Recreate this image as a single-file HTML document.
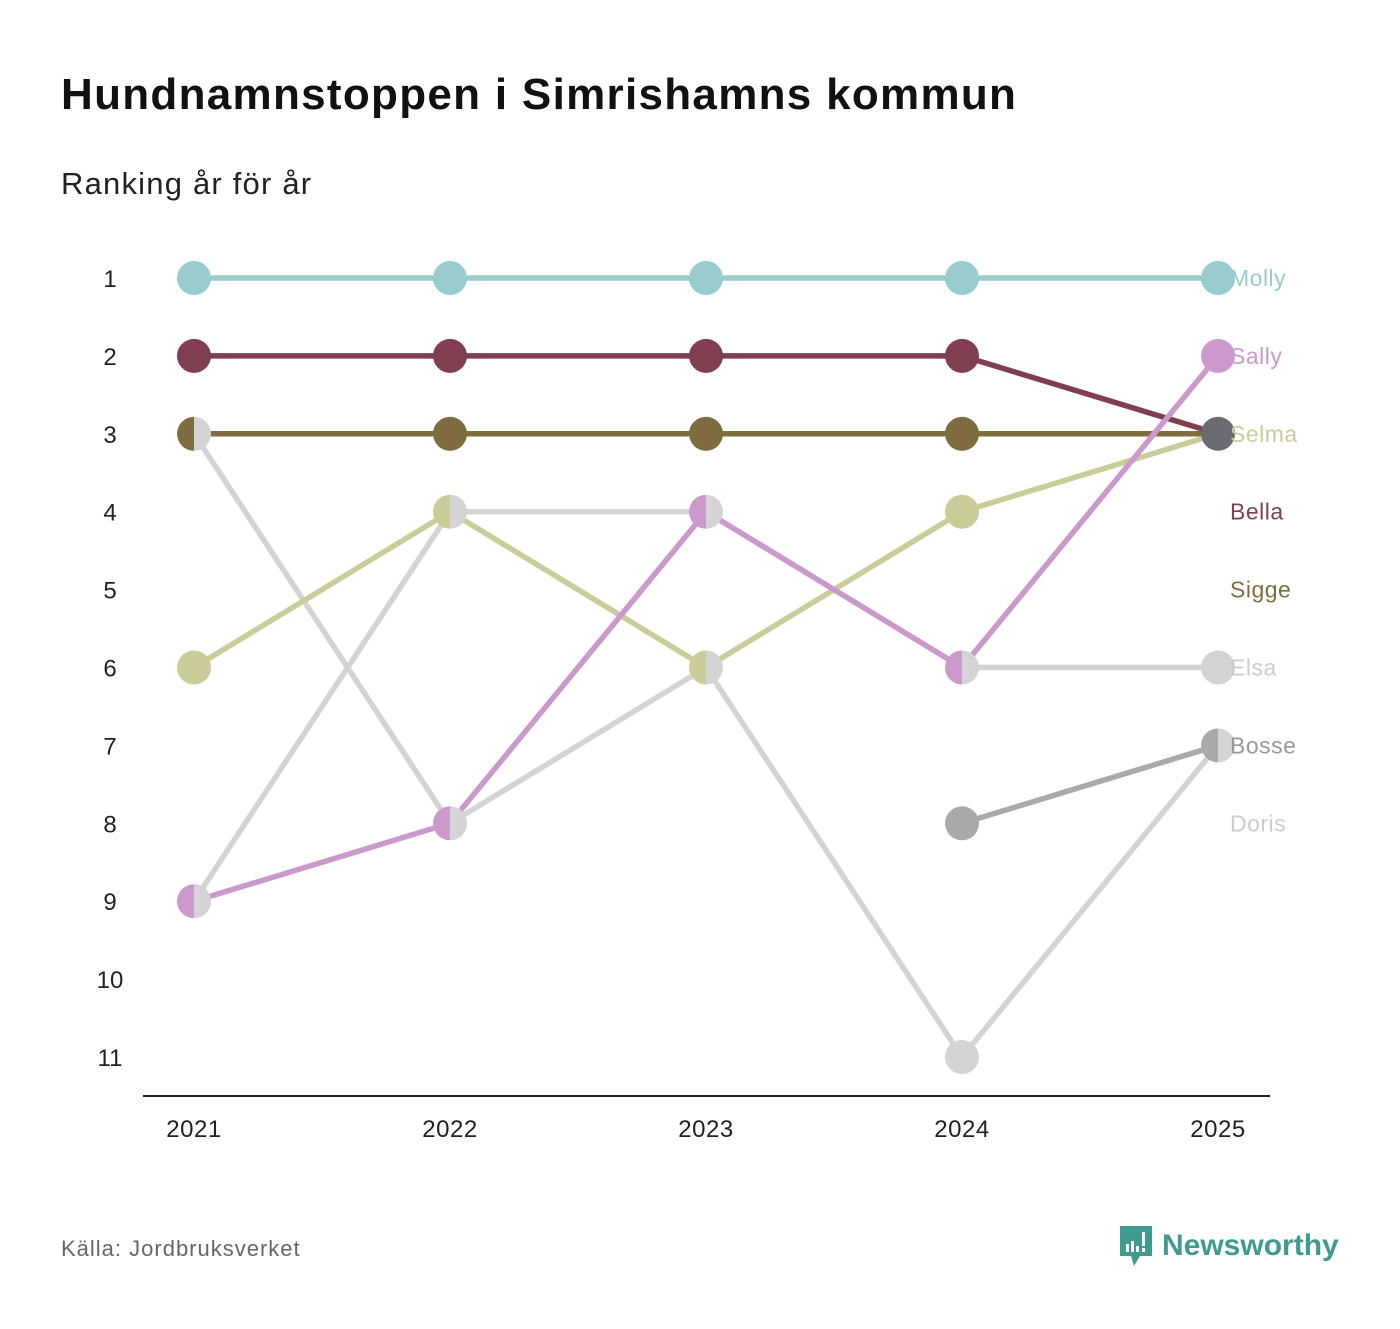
<!DOCTYPE html>
<html><head><meta charset="utf-8">
<style>
body{margin:0;background:#fff;font-family:"Liberation Sans","DejaVu Sans",sans-serif;}
#wrap{position:relative;width:1400px;height:1329px;overflow:hidden;}
h1{position:absolute;left:61px;top:70px;margin:0;font-size:44px;letter-spacing:1.3px;font-weight:bold;color:#111;}
.sub{position:absolute;left:61px;top:166px;font-size:31px;letter-spacing:1.2px;color:#222;}
.src{position:absolute;left:61px;top:1236px;font-size:22px;letter-spacing:1px;color:#666;}
.logo{position:absolute;left:1118px;top:1224px;display:flex;align-items:center;}
.logo span{font-size:30px;font-weight:bold;color:#3f9a8f;margin-left:8px;}
</style></head><body>
<div id="wrap">
<h1>Hundnamnstoppen i Simrishamns kommun</h1>
<div class="sub">Ranking år för år</div>
<svg id="chart" width="1400" height="1329" style="position:absolute;left:0;top:0"></svg>
<div class="src">Källa: Jordbruksverket</div>
<div class="logo">
<svg width="36" height="44" viewBox="0 0 36 44"><path d="M2 2h32v30H22l-6 10-3-10H2z" fill="#3f9a8f"/><rect x="8" y="20" width="3" height="8" fill="#fff"/><rect x="13" y="17" width="3" height="11" fill="#fff"/><rect x="18" y="22" width="3" height="6" fill="#fff"/><rect x="24" y="8" width="3" height="14" fill="#fff"/><rect x="24" y="24" width="3" height="4" fill="#fff"/></svg>
<span>Newsworthy</span></div>
</div>
<script>
const years=[2021,2022,2023,2024,2025];
const rankTicks=[1,2,3,4,5,6,7,8,9,10,11];
const names=["Molly","Bella","Sigge","Selma","Sally","Bosse","Elsa","Doris"];
const colors=["#99cccc","#7f3f50","#7f6d3f","#cccc99","#cc99cc","#aaaaaa","#d4d4d4","#d4d4d4"];
const labelColors=["#99cccc","#7f3f50","#7f6d3f","#cccc99","#cc99cc","#999999","#cccccc","#cccccc"];
const molly=[1,1,1,1,1];
const bella=[2,2,2,2,3];
const sigge=[3,3,3,3,3];
const selma=[6,4,6,4,3];
const sally=[9,8,4,6,2];
const bosse=[null,null,null,8,7];
const elsa=[9,4,4,6,6];
const doris=[3,8,6,11,7];
const labelRanks=[1,4,5,3,2,7,6,8];
const series=[molly,bella,sigge,selma,sally,bosse,elsa,doris];
const lineOrder=[7,6,0,1,2,3,4,5];

const svg=document.getElementById('chart');
const NS="http://www.w3.org/2000/svg";
const x=i=>194+i*256;
const y=r=>278+(r-1)*77.9;
function mk(t,a){const e=document.createElementNS(NS,t);for(const k in a)e.setAttribute(k,a[k]);svg.appendChild(e);return e;}
const ax=mk('line',{x1:143,x2:1270,y1:1096,y2:1096,stroke:'#222','stroke-width':2});


years.forEach((yr,i)=>{
 const l=mk('text',{x:x(i),y:1137,'text-anchor':'middle','font-size':24,'letter-spacing':0.5,fill:'#222'});
 l.textContent=yr;
 
 
});
rankTicks.forEach(r=>{
 const l=mk('text',{x:110,y:y(r)+9,'text-anchor':'middle','font-size':24,fill:'#222'});
 l.textContent=r;
 
 
});
lineOrder.forEach(si=>{
 const s=series[si];
 const pts=[];s.forEach((r,i)=>{if(r!=null)pts.push(x(i)+','+y(r));});
 const p=mk('polyline',{points:pts.join(' '),fill:'none',stroke:colors[si],'stroke-width':5.5,'stroke-linejoin':'round'});
 
 
});
years.forEach((yr,i)=>{
 const groups={};
 series.forEach((s,si)=>{if(s[i]!=null){(groups[s[i]]=groups[s[i]]||[]).push(si);}});
 for(const r in groups){
  const g=groups[r],cx=x(i),cy=y(+r),R=17;
  if(g.length===1){
   const c=mk('circle',{cx:cx,cy:cy,r:R,fill:colors[g[0]]});
   
   
  }else if(g.length===2){
   const a=mk('path',{d:`M${cx},${cy-R}A${R},${R} 0 0 0 ${cx},${cy+R}Z`,fill:colors[g[0]]});
   
   
   const b=mk('path',{d:`M${cx},${cy-R}A${R},${R} 0 0 1 ${cx},${cy+R}Z`,fill:colors[g[1]]});
   
   
  }else{
   const c=mk('circle',{cx:cx,cy:cy,r:R,fill:'#6b6b73'});
   
   
  }
 }
});
names.forEach((n,si)=>{
 const l=mk('text',{x:1230,y:y(labelRanks[si])+8,'font-size':23,'letter-spacing':0.5,fill:labelColors[si]});
 l.textContent=n;
 
 
});
</script>
</body></html>
